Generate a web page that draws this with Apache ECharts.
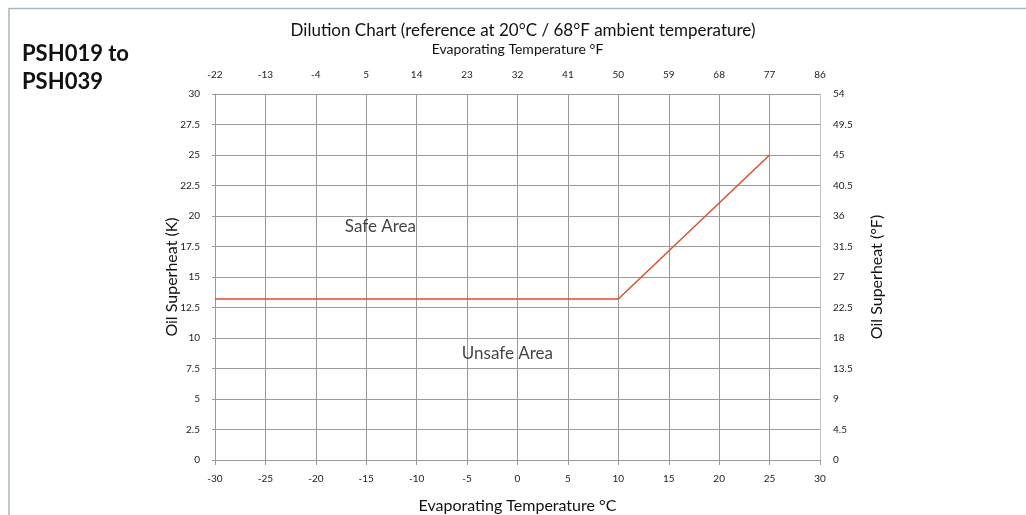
<!DOCTYPE html>
<html>
<head>
<meta charset="utf-8">
<script src="https://cdn.jsdelivr.net/npm/echarts@6/dist/echarts.min.js"></script>
<style>html,body{margin:0;padding:0;background:#fff}#c{width:1026px;height:515px}</style>
</head>
<body>
<div id="c"></div>
<script>
// Data
var tempC = [-30, 10, 25];
var superheatK = [13.2, 13.2, 25];
var tempFLabels = [-22, -13, -4, 5, 14, 23, 32, 41, 50, 59, 68, 77, 86];
var superheatFLabels = ['0', '4.5', '9', '13.5', '18', '22.5', '27', '31.5', '36', '40.5', '45', '49.5', '54'];
var areaLabels = [
  {name: 'Safe Area', x: -13.6, y: 19.1},
  {name: 'Unsafe Area', x: -1.0, y: 8.7}
];

var FONT = 'Lato';
var chart = echarts.init(document.getElementById('c'));
var gridColor = '#9a9a9a';
var axisText = {color: '#222', fontSize: 10, fontFamily: FONT};

chart.setOption({
  animation: false,
  textStyle: {fontFamily: FONT},
  title: {
    text: 'Dilution Chart (reference at 20°C / 68°F ambient temperature)',
    left: 518, top: 17, textAlign: 'center',
    textStyle: {fontSize: 17, fontWeight: 'normal', color: '#111', fontFamily: FONT}
  },
  graphic: [
    {type: 'line', shape: {x1: 9, y1: 8.5, x2: 1026, y2: 8.5}, style: {stroke: '#a7b6c2', lineWidth: 1.5}},
    {type: 'line', shape: {x1: 9, y1: 8, x2: 9, y2: 515}, style: {stroke: '#a7b6c2', lineWidth: 1.5}},
    {type: 'text', left: 22, top: 40, style: {text: 'PSH019 to\nPSH039', fontSize: 22, fontWeight: 'bold', fontFamily: FONT, fill: '#111', lineHeight: 28}}
  ],
  grid: {left: 215, right: 206, top: 94, bottom: 55, outerBoundsMode: 'none', containLabel: false},
  xAxis: [
    {
      type: 'value', position: 'bottom', min: -30, max: 30, interval: 5,
      name: 'Evaporating Temperature °C', nameLocation: 'middle', nameGap: 38, nameMoveOverlap: false,
      nameTextStyle: {fontSize: 16, color: '#111', fontFamily: FONT},
      axisLine: {show: true, onZero: false, lineStyle: {color: gridColor}},
      axisTick: {show: true, length: 5, lineStyle: {color: gridColor}},
      axisLabel: Object.assign({margin: 14}, axisText),
      splitLine: {show: true, lineStyle: {color: gridColor, width: 1}}
    },
    {
      type: 'value', position: 'top', min: -30, max: 30, interval: 5,
      name: 'Evaporating Temperature °F', nameLocation: 'middle', nameGap: 38, nameMoveOverlap: false,
      nameTextStyle: {fontSize: 14, color: '#111', fontFamily: FONT},
      axisLine: {show: false},
      axisTick: {show: false},
      axisLabel: Object.assign({margin: 14, formatter: function (v) { return String(tempFLabels[Math.round((v + 30) / 5)]); }}, axisText),
      splitLine: {show: false}
    }
  ],
  yAxis: [
    {
      type: 'value', position: 'left', min: 0, max: 30, interval: 2.5,
      name: 'Oil Superheat (K)', nameLocation: 'middle', nameGap: 35, nameMoveOverlap: false,
      nameTextStyle: {fontSize: 16, color: '#111', fontFamily: FONT},
      axisLine: {show: true, onZero: false, lineStyle: {color: gridColor}},
      axisTick: {show: true, length: 3, lineStyle: {color: gridColor}},
      axisLabel: Object.assign({margin: 15}, axisText),
      splitLine: {show: true, lineStyle: {color: gridColor, width: 1}}
    },
    {
      type: 'value', position: 'right', min: 0, max: 30, interval: 2.5,
      name: 'Oil Superheat (°F)', nameLocation: 'middle', nameGap: 49, nameMoveOverlap: false,
      nameTextStyle: {fontSize: 16, color: '#111', fontFamily: FONT},
      axisLine: {show: true, onZero: false, lineStyle: {color: '#c4c4c4'}},
      axisTick: {show: false},
      axisLabel: Object.assign({margin: 13, formatter: function (v) { return superheatFLabels[Math.round(v / 2.5)]; }}, axisText),
      splitLine: {show: false}
    }
  ],
  series: [
    {
      type: 'line', xAxisIndex: 0, yAxisIndex: 0,
      data: tempC.map(function (x, i) { return [x, superheatK[i]]; }),
      symbol: 'none',
      lineStyle: {color: '#d9502f', width: 1.5}
    },
    {
      type: 'scatter', xAxisIndex: 0, yAxisIndex: 0,
      data: areaLabels.map(function (d) { return {value: [d.x, d.y], name: d.name}; }),
      symbolSize: 0,
      label: {show: true, position: 'inside', formatter: '{b}', fontSize: 17, color: '#111', fontFamily: FONT}
    }
  ]
});
</script>
</body>
</html>
